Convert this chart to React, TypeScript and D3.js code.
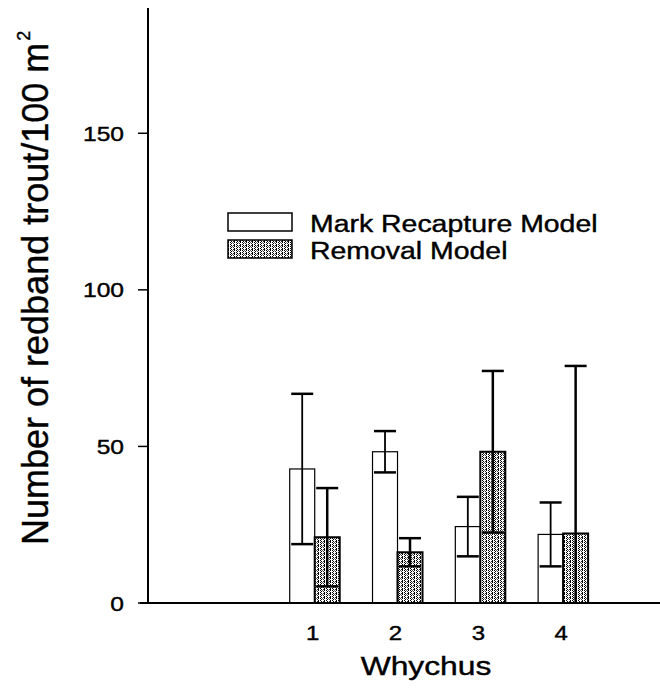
import React from "react";
import * as d3 from "d3";

const categories = [1, 2, 3, 4];
const markMean = [42.8, 48.3, 24.4, 21.9];
const markErr = [24, 6.6, 9.5, 10.2];
const removalMean = [21, 16.2, 48.3, 22.2];
const removalErr = [15.7, 4.5, 25.8, 53.5];
const yTicks = [0, 50, 100, 150];

const W = 660;
const H = 688;
const FONT = "'Liberation Sans', Arial, Helvetica, sans-serif";

function SText(props: {
  x: number;
  y: number;
  size: number;
  sx?: number;
  anchor?: string;
  children: React.ReactNode;
}) {
  const { x, y, size, sx = 1.2, anchor = "start", children } = props;
  return (
    <g transform={`translate(${x},${y}) scale(${sx},1)`}>
      <text
        textAnchor={anchor}
        fontFamily={FONT}
        fontSize={size}
        fill="#000"
        stroke="#000"
        strokeWidth={0.4}
      >
        {children}
      </text>
    </g>
  );
}

export default function App() {
  const x = d3.scaleLinear().domain([-1.11, 5.17]).range([140, 660]);
  const y = d3.scaleLinear().domain([0, 190]).range([603, 8]);
  const barW = 25;
  const capW = 22;
  const axisX = 148;

  const errBar = (cx: number, mean: number, err: number, sw: number, key: string) => {
    const top = y(mean + err);
    const lo = Math.max(0, mean - err);
    const bottom = y(lo);
    return (
      <g key={key} stroke="#000" strokeWidth={sw}>
        <line x1={cx} x2={cx} y1={top} y2={bottom} />
        <line x1={cx - capW / 2} x2={cx + capW / 2} y1={top} y2={top} strokeWidth={2.5} />
        {lo > 0 && <line x1={cx - capW / 2} x2={cx + capW / 2} y1={bottom} y2={bottom} strokeWidth={2.5} />}
      </g>
    );
  };

  return (
    <svg width={W} height={H} style={{ position: "absolute", left: 0, top: 0, background: "#fff" }}>
      <defs>
        <pattern id="stipple" width="6" height="4" patternUnits="userSpaceOnUse">
          <rect width="6" height="4" fill="#fff" />
          <rect x="0" y="0" width="1" height="3" fill="#000" />
          <rect x="2" y="0" width="1" height="1" fill="#000" />
          <rect x="3" y="1" width="1" height="1" fill="#000" />
          <rect x="2" y="2" width="1" height="1" fill="#000" />
          <rect x="3" y="3" width="1" height="1" fill="#000" />
          <rect x="5" y="1" width="1" height="1" fill="#333" />
          <rect x="4" y="2" width="1" height="1" fill="#666" />
          <rect x="5" y="3" width="1" height="1" fill="#333" />
        </pattern>
      </defs>

      {/* y axis */}
      <line x1={axisX} x2={axisX} y1={8} y2={603} stroke="#000" strokeWidth={2} />
      {yTicks.map((t) => (
        <g key={t}>
          <line x1={138} x2={axisX} y1={y(t)} y2={y(t)} stroke="#000" strokeWidth={1.5} />
          <SText x={124} y={y(t) + 7.5} size={20.5} anchor="end">
            {t}
          </SText>
        </g>
      ))}

      {/* bars */}
      {categories.map((c, i) => {
        const cx = x(c);
        return (
          <g key={c}>
            <rect
              x={cx - barW}
              y={y(markMean[i])}
              width={barW}
              height={y(0) - y(markMean[i])}
              fill="#fff"
              stroke="#000"
              strokeWidth={1.2}
            />
            <rect
              x={cx}
              y={y(removalMean[i])}
              width={barW}
              height={y(0) - y(removalMean[i])}
              fill="url(#stipple)"
              stroke="#000"
              strokeWidth={2}
            />
            {errBar(cx - barW / 2, markMean[i], markErr[i], 1.8, "m" + c)}
            {errBar(cx + barW / 2, removalMean[i], removalErr[i], 2.5, "r" + c)}
          </g>
        );
      })}

      {/* x axis */}
      <line x1={140} x2={660} y1={603} y2={603} stroke="#000" strokeWidth={2} />
      {categories.map((c) => (
        <SText key={"l" + c} x={x(c) - 2} y={640} size={20} anchor="middle">
          {c}
        </SText>
      ))}
      <SText x={426} y={675} size={26.5} anchor="middle">
        Whychus
      </SText>

      {/* y label */}
      <g transform={`translate(48,545) rotate(-90)`}>
        <text textAnchor="start" fontFamily={FONT} fontSize={36} fill="#000" stroke="#000" strokeWidth={0.4}>
          Number of redband trout/100 m
          <tspan fontSize={18} dy={-18} dx={2}>2</tspan>
        </text>
      </g>

      {/* legend */}
      <rect x={228} y={213} width={64} height={18} fill="#fff" stroke="#000" strokeWidth={1.5} />
      <rect x={228} y={240} width={64} height={18} fill="url(#stipple)" stroke="#000" strokeWidth={1.5} />
      <SText x={310} y={232} size={23.5} sx={1.21}>Mark Recapture Model</SText>
      <SText x={310} y={259} size={23.5} sx={1.21}>Removal Model</SText>
    </svg>
  );
}
